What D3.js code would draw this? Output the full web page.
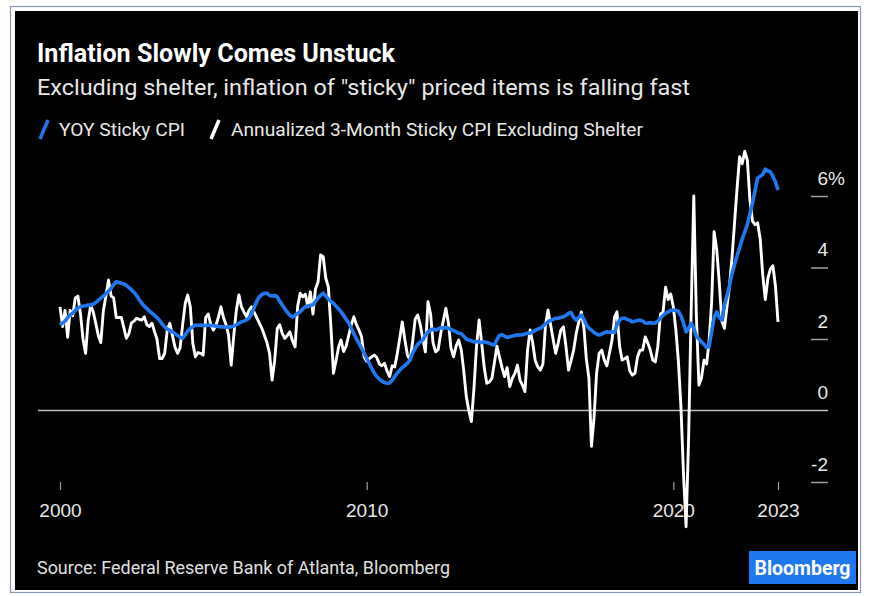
<!DOCTYPE html>
<html>
<head>
<meta charset="utf-8">
<script src="https://cdn.jsdelivr.net/npm/d3@7"></script>
<style>
  html, body { margin: 0; padding: 0; background: #ffffff; }
  svg { display: block; }
  text { font-family: "Liberation Sans Narrow", "Roboto", "Liberation Sans", sans-serif; }
</style>
</head>
<body>
<svg id="chart" width="870" height="596"></svg>
<script>
// ---------------- DATA ----------------
const startMonth = "2000-01";   // first observation
const endMonth = "2023-06";     // last observation

// YOY Sticky CPI (%), monthly Jan 2000 - Jun 2023
const stickyYoY = [
  2.39, 2.45, 2.5, 2.6, 2.68, 2.72, 2.8, 2.87, 2.9, 2.92,
  2.93, 2.95, 2.94, 2.98, 3.02, 3.08, 3.14, 3.2, 3.27, 3.34,
  3.42, 3.52, 3.6, 3.58, 3.56, 3.54, 3.5, 3.44, 3.38, 3.3,
  3.22, 3.1, 3.0, 2.92, 2.85, 2.78, 2.72, 2.66, 2.6, 2.52,
  2.42, 2.34, 2.28, 2.24, 2.2, 2.15, 2.1, 2.05, 2.02, 2.12,
  2.22, 2.3, 2.34, 2.39, 2.38, 2.39, 2.37, 2.38, 2.39, 2.38,
  2.37, 2.36, 2.35, 2.34, 2.34, 2.33, 2.34, 2.34, 2.36, 2.4,
  2.44, 2.48, 2.5, 2.54, 2.58, 2.7, 2.88, 3.05, 3.18, 3.24,
  3.28, 3.28, 3.22, 3.2, 3.22, 3.18, 3.06, 2.95, 2.85, 2.75,
  2.66, 2.62, 2.66, 2.72, 2.76, 2.84, 2.9, 2.92, 2.94, 2.96,
  3.05, 3.15, 3.22, 3.28, 3.2, 3.12, 3.05, 3.0, 2.92, 2.84,
  2.76, 2.66, 2.55, 2.45, 2.3, 2.15, 2.0, 1.88, 1.74, 1.6,
  1.46, 1.32, 1.18, 1.05, 0.95, 0.88, 0.82, 0.78, 0.76, 0.77,
  0.85, 0.95, 1.05, 1.13, 1.2, 1.26, 1.32, 1.42, 1.6, 1.74,
  1.85, 1.92, 1.97, 2.1, 2.2, 2.25, 2.28, 2.25, 2.28, 2.32,
  2.3, 2.32, 2.3, 2.26, 2.24, 2.2, 2.16, 2.15, 2.08, 2.0,
  1.97, 1.95, 1.92, 1.93, 1.92, 1.9, 1.92, 1.9, 1.88, 1.85,
  1.83, 1.98, 2.1, 2.12, 2.08, 2.04, 2.06, 2.08, 2.1, 2.12,
  2.11, 2.12, 2.14, 2.16, 2.16, 2.2, 2.24, 2.28, 2.3, 2.36,
  2.42, 2.48, 2.52, 2.55, 2.58, 2.58, 2.6, 2.62, 2.66, 2.72,
  2.74, 2.6, 2.53, 2.6, 2.67, 2.55, 2.4, 2.3, 2.25, 2.18,
  2.14, 2.11, 2.14, 2.18, 2.2, 2.18, 2.2, 2.18, 2.4, 2.53,
  2.58, 2.58, 2.55, 2.52, 2.48, 2.5, 2.52, 2.53, 2.5, 2.45,
  2.44, 2.46, 2.44, 2.45, 2.5, 2.58, 2.66, 2.72, 2.76, 2.8,
  2.81, 2.8, 2.78, 2.65, 2.45, 2.2, 2.3, 2.44, 2.3, 2.08,
  2.0, 1.92, 1.85, 1.76, 1.78, 2.2, 2.6, 2.76, 2.6, 2.53,
  2.95, 3.2, 3.5, 3.84, 4.1, 4.35, 4.55, 4.8, 5.0, 5.2,
  5.5, 5.8, 6.15, 6.5, 6.55, 6.6, 6.75, 6.7, 6.68, 6.55,
  6.4, 6.17
];

// Annualized 3-Month Sticky CPI Excluding Shelter (%), monthly Jan 2000 - Jun 2023
const stickyExShelter3m = [
  2.9, 2.35, 2.8, 2.05, 2.8, 2.65, 3.15, 3.2, 2.7, 2.0,
  1.6, 2.5, 2.95, 2.75, 2.45, 2.1, 1.9, 2.8, 3.2, 3.65,
  3.2, 3.15, 2.6, 2.6, 2.6, 2.3, 2.02, 2.15, 2.45, 2.5,
  2.58, 2.55, 2.53, 2.62, 2.4, 2.35, 2.44, 2.2, 2.0, 1.45,
  1.45, 1.6, 2.25, 2.44, 2.1, 1.78, 1.6, 1.75, 2.4, 3.0,
  3.23, 2.9, 1.88, 1.5, 1.62, 1.6, 1.55, 2.6, 2.7, 2.4,
  2.25, 2.39, 2.6, 2.9, 2.6, 2.4, 2.1, 1.27, 2.1, 2.8,
  3.23, 2.9, 2.75, 2.62, 2.8, 2.9, 2.75, 2.6, 2.45, 2.3,
  2.1, 1.9, 1.6, 0.85, 1.4, 2.3, 2.4, 2.16, 2.02, 2.1,
  2.2, 1.95, 1.78, 2.9, 3.28, 3.18, 3.25, 2.9, 3.32, 2.7,
  3.4, 3.6, 4.35, 4.3, 3.7, 3.46, 2.34, 1.04, 1.4, 1.78,
  1.97, 1.65, 1.8, 2.1, 2.4, 2.62, 2.4, 2.25, 2.06, 1.5,
  1.38, 1.45, 1.5, 1.55, 1.48, 1.3, 1.25, 1.32, 1.1, 0.95,
  1.25, 1.22, 1.6, 2.06, 2.48, 1.97, 1.55, 1.41, 1.9, 2.55,
  2.67, 2.4, 2.0, 1.64, 3.04, 2.7, 1.9, 1.64, 1.7, 2.16,
  2.5, 2.86, 2.44, 1.74, 1.5, 1.8, 1.97, 1.69, 1.13, 0.4,
  0.0, -0.31, 0.6, 1.8, 2.53, 1.9, 1.2, 0.76, 0.8, 0.9,
  1.32, 1.8, 1.5, 1.2, 0.95, 1.2, 0.67, 0.9, 1.04, 1.27,
  0.85, 0.7, 0.53, 1.69, 2.25, 1.9, 1.4, 1.22, 1.13, 1.3,
  2.4, 2.81, 2.39, 1.97, 1.6, 1.9, 2.25, 2.34, 1.8, 1.13,
  1.4, 1.69, 2.16, 2.48, 2.76, 2.3, 1.45, 0.9, -1.0, -0.2,
  1.04, 1.6, 1.69, 1.41, 1.25, 1.6, 1.97, 2.62, 2.76, 1.8,
  1.41, 1.45, 1.5, 1.1, 0.99, 1.04, 1.5, 1.69, 1.69, 2.06,
  1.9, 1.7, 1.41, 1.36, 1.8, 2.7, 2.75, 3.45, 3.1, 3.26,
  2.9, 2.25, 1.4, 0.1, -1.76, -3.25, -0.8, 2.8, 6.0, 2.7,
  0.71, 0.9, 1.41, 1.3, 1.9, 3.0, 5.0, 4.5, 3.6, 2.5,
  2.3, 2.9, 3.5, 4.3, 5.3, 6.3, 7.1, 6.9, 7.25, 7.0,
  5.9, 5.3, 5.2, 5.25, 4.8, 3.8, 3.1, 3.7, 3.95, 4.05,
  3.5, 2.48
];

const yTickValues = [-2, 0, 2, 4, 6];
const xTickDates = ["2000-01", "2010-01", "2020-01", "2023-06"];
const xTickLabels = ["2000", "2010", "2020", "2023"];

const seriesNames = ["YOY Sticky CPI", "Annualized 3-Month Sticky CPI Excluding Shelter"];
const titleText = "Inflation Slowly Comes Unstuck";
const subtitleText = "Excluding shelter, inflation of \"sticky\" priced items is falling fast";
const sourceText = "Source: Federal Reserve Bank of Atlanta, Bloomberg";

// ---------------- DRAW ----------------
const parseM = d3.timeParse("%Y-%m");
const months = d3.timeMonth.range(parseM(startMonth), d3.timeMonth.offset(parseM(endMonth), 1));

const BLUE = "#1f78f0";
const svg = d3.select("#chart");

// frame
svg.append("rect").attr("x", 0).attr("y", 0).attr("width", 870).attr("height", 596).attr("fill", "#ffffff");
svg.append("rect").attr("x", 10.5).attr("y", 6.5).attr("width", 850).attr("height", 586)
  .attr("fill", "none").attr("stroke", "#8796b4").attr("stroke-width", 1.2);
svg.append("rect").attr("x", 15).attr("y", 11).attr("width", 843).attr("height", 579).attr("fill", "#000000");

const x = d3.scaleTime().domain([parseM(startMonth), parseM(endMonth)]).range([60, 778]);
const y = d3.scaleLinear().domain([-2, 6]).range([482, 196]);

function fitText(sel, w) {
  sel.attr("textLength", w).attr("lengthAdjust", "spacingAndGlyphs");
}

// titles
svg.append("text").attr("x", 37).attr("y", 62).attr("fill", "#ffffff")
  .attr("font-size", 25).attr("font-weight", "bold").text(titleText).call(fitText, 358);
svg.append("text").attr("x", 37).attr("y", 95).attr("fill", "#e8e8e8")
  .attr("font-size", 22.5).text(subtitleText).call(fitText, 653);

// legend
const legend = [
  { name: seriesNames[0], color: BLUE, sx: 40, tx: 59, w: 126 },
  { name: seriesNames[1], color: "#ffffff", sx: 211, tx: 231, w: 412 }
];
legend.forEach(l => {
  svg.append("line").attr("x1", l.sx).attr("y1", 139).attr("x2", l.sx + 8).attr("y2", 120)
    .attr("stroke", l.color).attr("stroke-width", 3.5);
  svg.append("text").attr("x", l.tx).attr("y", 136).attr("fill", "#e8e8e8")
    .attr("font-size", 18).text(l.name).call(fitText, l.w);
});

// zero line
svg.append("line").attr("x1", 38).attr("x2", 828).attr("y1", y(0)).attr("y2", y(0))
  .attr("stroke", "#bdbdbd").attr("stroke-width", 1.4);

// y axis (right)
const yAxis = d3.axisRight(y).tickValues(yTickValues).tickSize(0).tickFormat(() => "");
const yg = svg.append("g").attr("transform", "translate(828,0)").call(yAxis);
yg.select(".domain").remove();
yg.selectAll(".tick").each(function(d) {
  const g = d3.select(this);
  if (d !== 0) {
    g.append("line").attr("x1", -17).attr("x2", 0).attr("y1", 0).attr("y2", 0)
      .attr("stroke", "#a0a0a0").attr("stroke-width", 1.5);
  }
  g.append("text").attr("x", 0).attr("y", -12).attr("text-anchor", "end")
    .attr("fill", "#e8e8e8").attr("font-size", 19).style("font-family", "Liberation Sans, sans-serif")
    .text(String(d));
  if (d === 6) {
    g.append("text").attr("x", 0).attr("y", -12).attr("fill", "#e8e8e8").attr("font-size", 19)
      .style("font-family", "Liberation Sans, sans-serif").text("%");
  }
});

// x axis
const xAxis = d3.axisBottom(x).tickValues(xTickDates.map(parseM)).tickSize(8)
  .tickFormat((d, i) => xTickLabels[i]);
const xg = svg.append("g").attr("transform", "translate(0,482)").call(xAxis);
xg.select(".domain").remove();
xg.selectAll(".tick line").attr("stroke", "#a0a0a0").attr("stroke-width", 1.2);
xg.selectAll(".tick text").attr("fill", "#e8e8e8").attr("font-size", 19).attr("dy", 0).attr("y", 35)
  .style("font-family", "Liberation Sans, sans-serif");

// lines
const line = d3.line().x((d, i) => x(months[i])).y(d => y(d)).curve(d3.curveLinear);
svg.append("path").datum(stickyExShelter3m).attr("d", line).attr("fill", "none")
  .attr("stroke", "#ffffff").attr("stroke-width", 2.9).attr("stroke-linejoin", "round");
svg.append("path").datum(stickyYoY).attr("d", line).attr("fill", "none")
  .attr("stroke", BLUE).attr("stroke-width", 3.6).attr("stroke-linejoin", "round");

// source & logo
svg.append("text").attr("x", 37).attr("y", 574).attr("fill", "#e0e0e0").attr("font-size", 18)
  .text(sourceText).call(fitText, 413);
svg.append("rect").attr("x", 749).attr("y", 551).attr("width", 107).attr("height", 33).attr("fill", BLUE);
svg.append("text").attr("x", 802.5).attr("y", 575).attr("text-anchor", "middle").attr("fill", "#ffffff")
  .attr("font-size", 21).attr("font-weight", "bold").text("Bloomberg").call(fitText, 96);
</script>
</body>
</html>
